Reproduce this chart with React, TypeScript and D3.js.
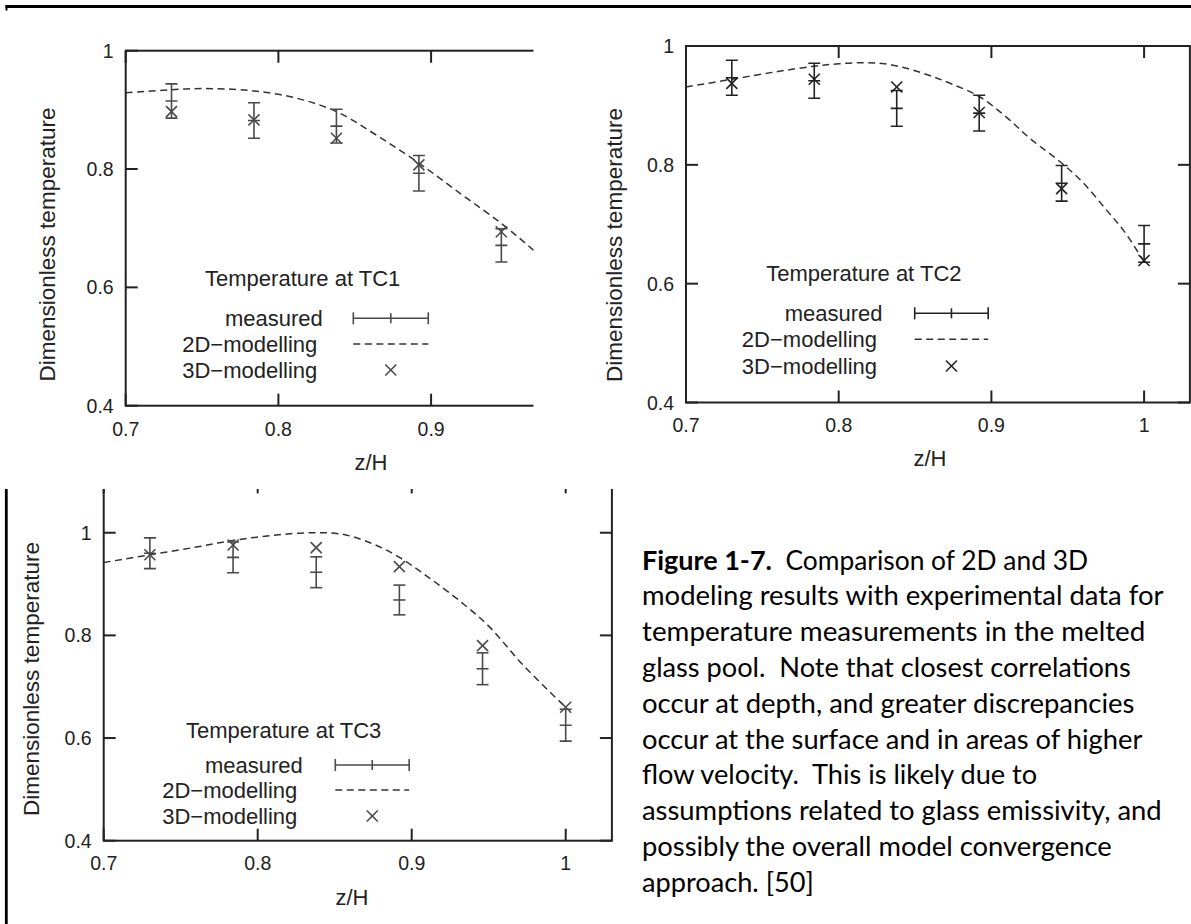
import React from "react";
import * as d3 from "d3";

// ---------- data ----------
const xTickValues = [0.7, 0.8, 0.9, 1.0];
const yTickValues = [0.4, 0.6, 0.8, 1.0];
const xTickLabels = ["0.7", "0.8", "0.9", "1"];
const yTickLabels = ["0.4", "0.6", "0.8", "1"];

// TC1 (z/H positions of the thermocouple readings)
const tc1Z = [0.73, 0.784, 0.838, 0.892, 0.946];
const tc1Measured = [0.915, 0.882, 0.8725, 0.793, 0.671];
const tc1Error = [0.029, 0.03, 0.0285, 0.03, 0.028];
const tc1Model3D = [0.897, 0.883, 0.852, 0.807, 0.694];
const tc1CurveZ = [0.7, 0.73, 0.75, 0.78, 0.81, 0.838, 0.865, 0.892, 0.92, 0.946, 0.967, 0.99];
const tc1CurveT = [0.929, 0.934, 0.936, 0.933, 0.921, 0.897, 0.856, 0.81, 0.757, 0.708, 0.663, 0.61];

// TC2
const tc2Z = [0.73, 0.784, 0.838, 0.892, 0.946, 1.0];
const tc2Measured = [0.9465, 0.9415, 0.895, 0.887, 0.769, 0.667];
const tc2Error = [0.0295, 0.0295, 0.03, 0.03, 0.03, 0.031];
const tc2Model3D = [0.937, 0.944, 0.931, 0.888, 0.76, 0.639];
const tc2CurveZ = [0.7, 0.73, 0.76, 0.784, 0.8, 0.816, 0.83, 0.845, 0.86, 0.875, 0.892, 0.91, 0.925, 0.946, 0.96, 0.975, 0.987, 1.0];
const tc2CurveT = [0.931, 0.944, 0.957, 0.966, 0.97, 0.972, 0.97, 0.962, 0.95, 0.935, 0.915, 0.88, 0.845, 0.803, 0.77, 0.725, 0.688, 0.637];

// TC3
const tc3Z = [0.73, 0.784, 0.838, 0.892, 0.946, 1.0];
const tc3Measured = [0.96, 0.952, 0.923, 0.869, 0.735, 0.625];
const tc3Error = [0.03, 0.03, 0.03, 0.029, 0.031, 0.031];
const tc3Model3D = [0.957, 0.976, 0.971, 0.934, 0.78, 0.66];
const tc3CurveZ = [0.7, 0.73, 0.76, 0.784, 0.81, 0.835, 0.855, 0.875, 0.892, 0.91, 0.93, 0.95, 0.973, 1.0];
const tc3CurveT = [0.942, 0.957, 0.972, 0.985, 0.995, 1.0, 0.997, 0.978, 0.952, 0.915, 0.87, 0.818, 0.74, 0.66];

const legendLabels = ["measured", "2D\u2212modelling", "3D\u2212modelling"];
const titles = ["Temperature at TC1", "Temperature at TC2", "Temperature at TC3"];
const yAxisTitle = "Dimensionless temperature";
const xAxisTitle = "z/H";

const captionBold = "Figure 1-7.";
const captionFirstRest = "  Comparison of 2D and 3D";
const captionLines = [
  "modeling results with experimental data for",
  "temperature measurements in the melted",
  "glass pool.  Note that closest correlations",
  "occur at depth, and greater discrepancies",
  "occur at the surface and in areas of higher",
  "flow velocity.  This is likely due to",
  "assumptions related to glass emissivity, and",
  "possibly the overall model convergence",
  "approach. [50]",
];
const captionBoldWidth = 130;
const captionRestWidth = 316;
const captionWidths = [521.5, 503.3, 488.8, 492.4, 500.4, 395.2, 519.7, 469.8, 171.9];

// ---------- layout ----------
const FONT = "'Liberation Sans', Arial, Helvetica, sans-serif";
const AXIS = "#222";

type PanelCfg = {
  id: string;
  title: string;
  z: number[];
  measured: number[];
  err: number[];
  model3d: number[];
  curveZ: number[];
  curveT: number[];
  xRange: [number, number];
  yDomain: [number, number];
  yRange: [number, number];
  clip: { x: number; y: number; w: number; h: number };
  color: string;
  yLabel: { x: number; y: number };
  xLabelBaseline: number;
  zh: { x: number; y: number };
  legend: { tx: number; ty: number; rows: number[]; right: number; s0: number; s1: number };
};

const panels: PanelCfg[] = [
  {
    id: "tc1", title: titles[0], z: tc1Z, measured: tc1Measured, err: tc1Error, model3d: tc1Model3D,
    curveZ: tc1CurveZ, curveT: tc1CurveT,
    xRange: [125.7, 629.6], yDomain: [0.4, 1.0], yRange: [405.7, 50.7],
    clip: { x: 0, y: 20, w: 533.5, h: 462 }, color: "#4a4a4a",
    yLabel: { x: 55, y: 244.5 }, xLabelBaseline: 436, zh: { x: 371, y: 470 },
    legend: { tx: 302.7, ty: 278, rows: [318.3, 344, 370], right: 317.3, s0: 353.3, s1: 428.3 },
  },
  {
    id: "tc2", title: titles[1], z: tc2Z, measured: tc2Measured, err: tc2Error, model3d: tc2Model3D,
    curveZ: tc2CurveZ, curveT: tc2CurveT,
    xRange: [686, 1189.9], yDomain: [0.4, 1.0], yRange: [402.5, 46],
    clip: { x: 540, y: 20, w: 660, h: 462 }, color: "#222",
    yLabel: { x: 622, y: 245 }, xLabelBaseline: 432, zh: { x: 930, y: 466 },
    legend: { tx: 863.9, ty: 273.3, rows: [313.3, 339.3, 366], right: 877, s0: 914.7, s1: 988.2 },
  },
  {
    id: "tc3", title: titles[2], z: tc3Z, measured: tc3Measured, err: tc3Error, model3d: tc3Model3D,
    curveZ: tc3CurveZ, curveT: tc3CurveT,
    xRange: [103.7, 611.9], yDomain: [0.4, 1.1], yRange: [840.7, 481.4],
    clip: { x: 8, y: 489, w: 620, h: 440 }, color: "#4a4a4a",
    yLabel: { x: 39, y: 679 }, xLabelBaseline: 870, zh: { x: 352, y: 905 },
    legend: { tx: 283.7, ty: 730, rows: [765, 790, 816], right: 297.3, s0: 335.3, s1: 409.2 },
  },
];

function Panel({ p }: { p: PanelCfg }) {
  const x = d3.scaleLinear().domain([0.7, 1.03]).range(p.xRange);
  const y = d3.scaleLinear().domain(p.yDomain).range(p.yRange);
  const [xl, xr] = p.xRange;
  const [yb, yt] = p.yRange;
  const tick = 12;
  const cap = 6;
  const mk = 5.5;
  const line = d3
    .line<number>()
    .x((_, i) => x(p.curveZ[i]))
    .y((d) => y(d))
    .curve(d3.curveCatmullRom.alpha(0.5));
  const dataClipId = `dc-${p.id}`;
  const clipId = `c-${p.id}`;
  const lg = p.legend;
  const mid = (lg.s0 + lg.s1) / 2;
  return (
    <g>
      <defs>
        <clipPath id={clipId}>
          <rect x={p.clip.x} y={p.clip.y} width={p.clip.w} height={p.clip.h} />
        </clipPath>
        <clipPath id={dataClipId}>
          <rect x={xl} y={yt} width={xr - xl} height={yb - yt} />
        </clipPath>
      </defs>
      <g clipPath={`url(#${clipId})`}>
        <rect x={xl} y={yt} width={xr - xl} height={yb - yt} fill="none" stroke={AXIS} strokeWidth={2} />
        {xTickValues.map((v, i) => (
          <g key={`xt${i}`}>
            <line x1={x(v)} x2={x(v)} y1={yb} y2={yb - tick} stroke={AXIS} strokeWidth={2} />
            <line x1={x(v)} x2={x(v)} y1={yt} y2={yt + tick} stroke={AXIS} strokeWidth={2} />
            <text x={x(v)} y={p.xLabelBaseline} textAnchor="middle" fontFamily={FONT} fontSize={19.5} fill={AXIS}>
              {xTickLabels[i]}
            </text>
          </g>
        ))}
        {yTickValues.map((v, i) => (
          <g key={`yt${i}`}>
            <line x1={xl} x2={xl + tick} y1={y(v)} y2={y(v)} stroke={AXIS} strokeWidth={2} />
            <line x1={xr} x2={xr - tick} y1={y(v)} y2={y(v)} stroke={AXIS} strokeWidth={2} />
            <text x={xl - 12} y={y(v)} textAnchor="end" dominantBaseline="central" fontFamily={FONT} fontSize={19.5} fill={AXIS}>
              {yTickLabels[i]}
            </text>
          </g>
        ))}
        <text
          transform={`translate(${p.yLabel.x},${p.yLabel.y}) rotate(-90)`}
          textAnchor="middle"
          fontFamily={FONT}
          fontSize={22.5}
          fill={AXIS}
        >
          {yAxisTitle}
        </text>
        <text x={p.zh.x} y={p.zh.y} textAnchor="middle" fontFamily={FONT} fontSize={22} fill={AXIS}>
          {xAxisTitle}
        </text>

        <g clipPath={`url(#${dataClipId})`}>
          <path d={line(p.curveT) || ""} fill="none" stroke="#333" strokeWidth={1.5} strokeDasharray="7 4.5" />
          {p.z.map((zv, i) => {
            const cx = x(zv);
            const y0 = y(p.measured[i] - p.err[i]);
            const y1 = y(p.measured[i] + p.err[i]);
            const ym = y(p.measured[i]);
            return (
              <g key={`m${i}`} stroke={p.color} strokeWidth={1.6} fill="none">
                <line x1={cx} x2={cx} y1={y0} y2={y1} />
                <line x1={cx - cap} x2={cx + cap} y1={y0} y2={y0} />
                <line x1={cx - cap} x2={cx + cap} y1={y1} y2={y1} />
                <line x1={cx - cap} x2={cx + cap} y1={ym} y2={ym} />
              </g>
            );
          })}
          {p.z.map((zv, i) => {
            const cx = x(zv);
            const cy = y(p.model3d[i]);
            return (
              <g key={`x${i}`} stroke={p.color} strokeWidth={1.6}>
                <line x1={cx - mk} x2={cx + mk} y1={cy - mk} y2={cy + mk} />
                <line x1={cx - mk} x2={cx + mk} y1={cy + mk} y2={cy - mk} />
              </g>
            );
          })}
        </g>

        <text x={lg.tx} y={lg.ty} textAnchor="middle" dominantBaseline="central" fontFamily={FONT} fontSize={22} fill={AXIS}>
          {p.title}
        </text>
        {legendLabels.map((lab, i) => (
          <text
            key={`ll${i}`}
            x={i === 0 ? lg.right + 5.5 : lg.right}
            y={lg.rows[i]}
            textAnchor="end"
            dominantBaseline="central"
            fontFamily={FONT}
            fontSize={22}
            fill={AXIS}
          >
            {lab}
          </text>
        ))}
        <g stroke={p.color} strokeWidth={1.6}>
          <line x1={lg.s0} x2={lg.s1} y1={lg.rows[0]} y2={lg.rows[0]} />
          <line x1={lg.s0} x2={lg.s0} y1={lg.rows[0] - cap} y2={lg.rows[0] + cap} />
          <line x1={lg.s1} x2={lg.s1} y1={lg.rows[0] - cap} y2={lg.rows[0] + cap} />
          <line x1={mid} x2={mid} y1={lg.rows[0] - 5} y2={lg.rows[0] + 5} />
        </g>
        <line x1={lg.s0} x2={lg.s1} y1={lg.rows[1]} y2={lg.rows[1]} stroke="#333" strokeWidth={1.5} strokeDasharray="7 4.5" />
        <g stroke={p.color} strokeWidth={1.6}>
          <line x1={mid - mk} x2={mid + mk} y1={lg.rows[2] - mk} y2={lg.rows[2] + mk} />
          <line x1={mid - mk} x2={mid + mk} y1={lg.rows[2] + mk} y2={lg.rows[2] - mk} />
        </g>
      </g>
    </g>
  );
}

export default function App() {
  const capX = 642;
  const capY0 = 569.5;
  const capDy = 35.8;
  const capFont = "Lato, 'Open Sans', sans-serif";
  const capSize = 26;
  return (
    <div style={{ position: "absolute", left: 0, top: 0, width: 1191, height: 924, background: "#fff" }}>
      <svg width={1191} height={924} viewBox="0 0 1191 924" style={{ display: "block" }}>
        <rect x={0} y={0} width={1191} height={924} fill="#fff" />
        <line x1={5.5} x2={1191} y1={6.5} y2={6.5} stroke="#000" strokeWidth={3} />
        <line x1={6.5} x2={6.5} y1={5} y2={10.5} stroke="#000" strokeWidth={2} />
        <line x1={6.3} x2={6.3} y1={489} y2={924} stroke="#000" strokeWidth={2.8} />

        {panels.map((p) => (
          <Panel key={p.id} p={p} />
        ))}

        <text
          x={capX}
          y={capY0}
          fontFamily={capFont}
          fontSize={capSize}
          fontWeight="bold"
          fill="#000"
          textLength={captionBoldWidth}
          lengthAdjust="spacingAndGlyphs"
        >
          {captionBold}
        </text>
        <text
          x={capX + captionBoldWidth}
          y={capY0}
          fontFamily={capFont}
          fontSize={capSize}
          fill="#000"
          textLength={captionRestWidth}
          lengthAdjust="spacingAndGlyphs"
          style={{ whiteSpace: "pre" }}
        >
          {captionFirstRest}
        </text>
        {captionLines.map((t, i) => (
          <text
            key={`cap${i}`}
            x={capX}
            y={capY0 + capDy * (i + 1)}
            fontFamily={capFont}
            fontSize={capSize}
            fill="#000"
            textLength={captionWidths[i]}
            lengthAdjust="spacingAndGlyphs"
            style={{ whiteSpace: "pre" }}
          >
            {t}
          </text>
        ))}
      </svg>
    </div>
  );
}
